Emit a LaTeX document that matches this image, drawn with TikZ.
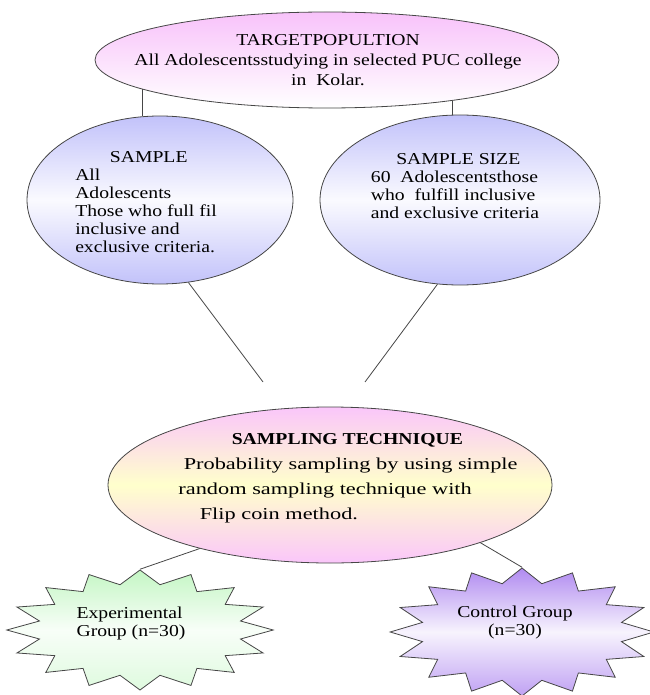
\documentclass[tikz,border=0pt]{standalone}
\usepackage{fontspec}
\setmainfont{Liberation Serif}
\newfontfamily\widefont[FakeStretch=1.18]{Liberation Serif}
\newfontfamily\techfont[FakeStretch=1.34]{Liberation Serif}
\usepackage{tikz}
\usetikzlibrary{shapes.geometric,positioning}
\definecolor{TargetPink}{RGB}{248,194,250}
\definecolor{SampleLav}{RGB}{194,194,250}
\definecolor{TechPink}{RGB}{250,198,250}
\definecolor{TechYellow}{RGB}{255,255,204}
\definecolor{ExpGreen}{RGB}{196,246,196}
\definecolor{CtrlPurple}{RGB}{176,138,240}
\definecolor{LineGray}{RGB}{70,70,70}

\begin{document}
\begin{tikzpicture}[x=0.75pt,y=-0.75pt,
    bubble/.style={ellipse, draw=LineGray, line width=0.6pt, inner sep=0pt},
    burst/.style={star, star points=16, star point ratio=1.3, draw=LineGray, line width=0.6pt, inner sep=0pt, transform shape},
    txt/.style={font=\widefont\fontsize{12.5}{13.5}\selectfont, align=left, inner sep=0pt},
    link/.style={draw=LineGray, line width=0.6pt}]
  \useasboundingbox (0,0) rectangle (649,695);

  % target population
  \node[bubble, top color=TargetPink, bottom color=white, minimum width=348pt, minimum height=72pt] (target) at (327,60) {};
  \node[txt, align=center, font=\widefont\fontsize{12.5}{15}\selectfont] (targettxt) at (328,60)
    {TARGETPOPULTION\\All Adolescentsstudying in selected PUC college\\in\ \ Kolar.};

  % sample and sample size
  \node[bubble, top color=SampleLav, bottom color=SampleLav, middle color=white!92!SampleLav, minimum width=199.5pt, minimum height=126pt] (sample) at (160,200) {};
  \node[txt] (sampletxt) at (146,202)
    {\hspace*{26pt}SAMPLE\\All\\Adolescents\\Those who full fil\\inclusive and\\exclusive criteria.};
  \node[bubble, top color=SampleLav, bottom color=SampleLav, middle color=white!92!SampleLav, minimum width=210pt, minimum height=127.5pt] (size) at (460,200) {};
  \node[txt] (sizetxt) at (455,186)
    {\hspace*{19pt}SAMPLE SIZE\\60\ \ Adolescentsthose\\who\ \ fulfill inclusive\\and exclusive criteria};

  % sampling technique
  \node[bubble, top color=TechPink, bottom color=TechPink, middle color=TechYellow, minimum width=333pt, minimum height=117pt] (tech) at (330,485) {};
  \node[txt, font=\techfont\fontsize{12.5}{18.75}\selectfont] (techtxt) at (348,478)
    {\hspace*{40pt}{\widefont\bfseries SAMPLING TECHNIQUE}\\
     \hspace*{4pt}Probability sampling by using simple\\
     random sampling technique with\\
     \hspace*{16pt}Flip coin method.};

  % groups
  \begin{scope}[shift={(140,630)}, xscale=2.22]
    \node[burst, top color=ExpGreen, bottom color=ExpGreen!55, middle color=white!88!ExpGreen, minimum size=90pt] (exp) {};
  \end{scope}
  \node[txt] (exptxt) at (131,623) {Experimental\\Group (n=30)};
  \begin{scope}[shift={(522,632)}, xscale=2.06]
    \node[burst, top color=CtrlPurple, bottom color=CtrlPurple!80, middle color=white!90!CtrlPurple, minimum size=96pt] (ctrl) {};
  \end{scope}
  \node[txt, align=center] (ctrltxt) at (515,622) {Control Group\\(n=30)};

  % connectors
  \coordinate (sampleend) at (263,382);
  \coordinate (sizeend) at (365,382);
  \draw[link] (target.189) -- (target.189 |- sample.north);
  \draw[link] (target.342) -- (target.342 |- size.north);
  \draw[link] (sample.289) -- (sampleend);
  \draw[link] (size.255) -- (sizeend);
  \draw[link] (tech.206) -- (exp.north);
  \draw[link] (tech.339) -- (ctrl.north);
\end{tikzpicture}
\end{document}
